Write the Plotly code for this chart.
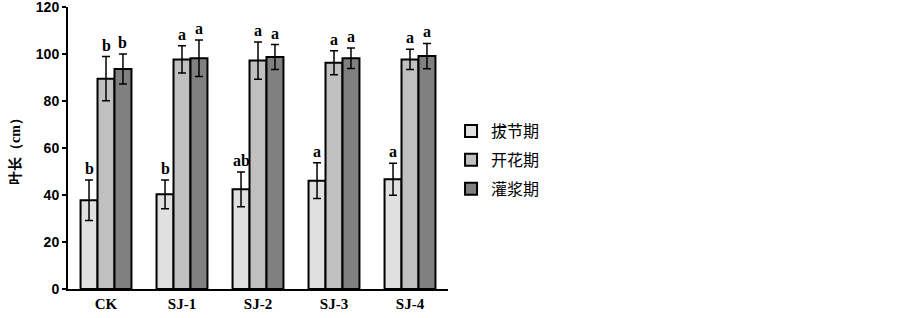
import plotly.graph_objects as go

categories = ["CK", "SJ-1", "SJ-2", "SJ-3", "SJ-4"]
series_names = ["拔节期", "开花期", "灌浆期"]
jointing = [37.8, 40.3, 42.4, 46.1, 46.7]
jointing_err = [8.6, 6.1, 7.4, 7.6, 6.8]
flowering = [89.5, 97.7, 97.2, 96.3, 97.7]
flowering_err = [9.4, 5.8, 7.9, 5.1, 4.3]
filling = [93.6, 98.2, 98.7, 98.2, 99.1]
filling_err = [6.4, 7.8, 5.3, 4.4, 5.4]
jointing_sig = ["b", "b", "ab", "a", "a"]
flowering_sig = ["b", "a", "a", "a", "a"]
filling_sig = ["b", "a", "a", "a", "a"]
y_ticks = [0, 20, 40, 60, 80, 100, 120]

colors = ["#e0e0e0", "#c0c0c0", "#808080"]
values = [jointing, flowering, filling]
errs = [jointing_err, flowering_err, filling_err]
sigs = [jointing_sig, flowering_sig, filling_sig]

bargap = 0.33
fig = go.Figure()
for i in range(3):
    fig.add_trace(go.Bar(
        name=series_names[i], x=categories, y=values[i],
        marker=dict(color=colors[i], line=dict(color="black", width=2)),
        error_y=dict(type="data", array=errs[i], color="black", thickness=1.5, width=4),
        legendgroup=str(i),
    ))

bw = (1 - bargap) / 3
annotations = []
for i in range(3):
    off = (i - 1) * bw
    for j in range(len(categories)):
        annotations.append(dict(
            x=j + off, y=values[i][j] + errs[i][j], xref="x", yref="y",
            text=sigs[i][j], showarrow=False, yanchor="bottom", yshift=1,
            font=dict(family="Liberation Serif", size=16, color="black", weight="bold"),
        ))

fig.update_layout(
    width=903, height=318,
    margin=dict(l=68, r=455, t=7, b=29),
    plot_bgcolor="white", paper_bgcolor="white",
    barmode="group", bargap=bargap, bargroupgap=0,
    showlegend=True,
    legend=dict(x=1.008, y=0.62, xanchor="left", yanchor="top",
                font=dict(family="Noto Sans CJK SC", size=16, color="black"),
                tracegroupgap=5, traceorder="grouped"),
    annotations=annotations,
    xaxis=dict(
        showline=True, linecolor="black", linewidth=2, ticks="", automargin=False,
        tickfont=dict(family="Liberation Serif", size=15, color="black", weight="bold"),
        showgrid=False,
    ),
    yaxis=dict(
        range=[0, 120], tickvals=y_ticks, showline=True, linecolor="black", linewidth=2,
        ticks="outside", ticklen=4, tickwidth=2, tickcolor="black", showgrid=False,
        zeroline=False, automargin=False, ticklabeloverflow="allow",
        tickfont=dict(family="Liberation Sans", size=14, color="black", weight="bold"),
        title=dict(text="<span style='font-family:Noto Sans CJK SC'>叶长</span>"
                        "<span style='font-family:Liberation Serif'>（cm）</span>",
                   standoff=12,
                   font=dict(family="Noto Sans CJK SC", size=14, color="black", weight="bold")),
    ),
)
fig.write_html("out.html", config={"displayModeBar": False},
               post_script="document.body.style.margin='0';")
